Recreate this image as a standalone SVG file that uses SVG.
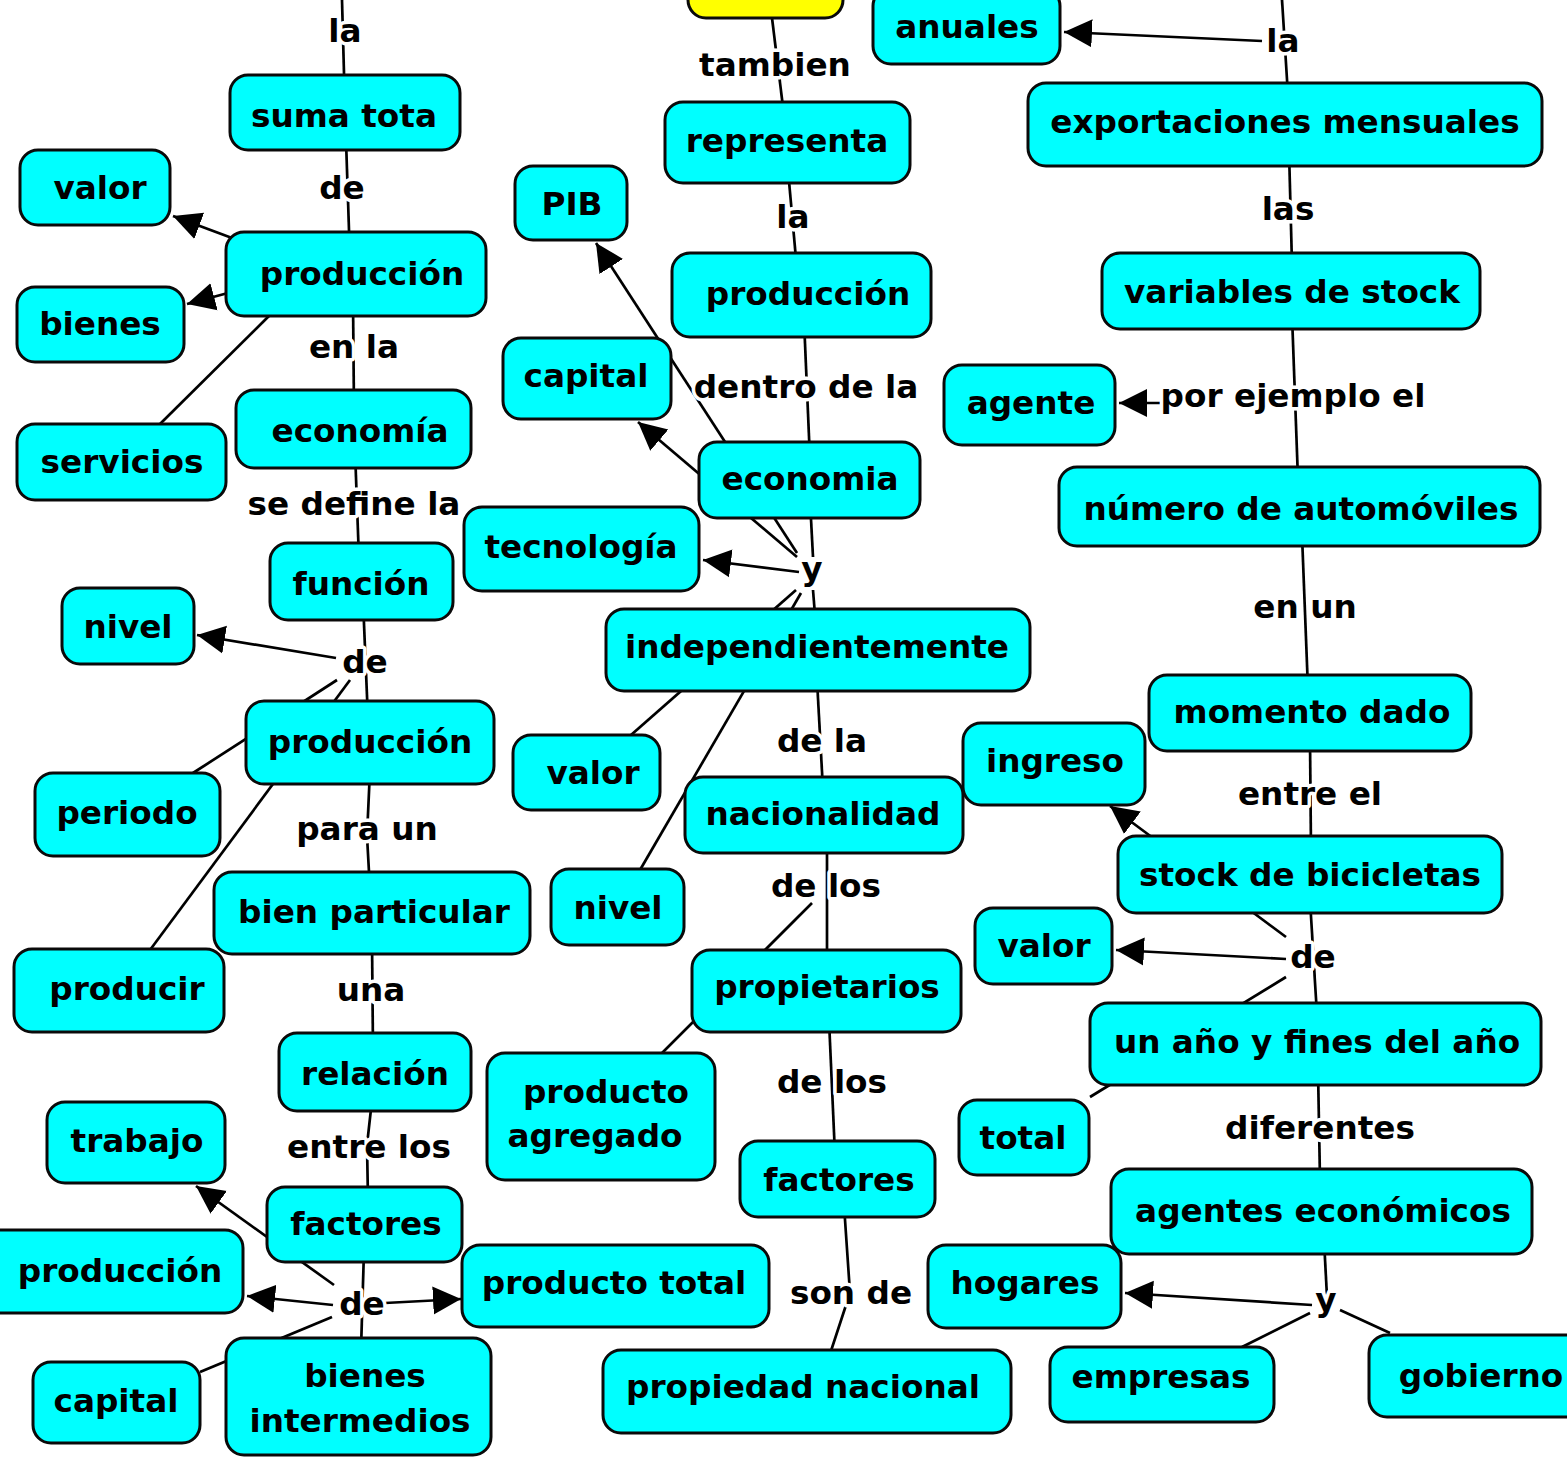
<svg xmlns="http://www.w3.org/2000/svg" width="1567" height="1458" viewBox="0 0 1567 1458">
<style>
.n rect{fill:#00ffff;stroke:#0a0a0a;stroke-width:3}
.y rect{fill:#ffff00;stroke:#0a0a0a;stroke-width:3}
text{font-family:"DejaVu Sans","Verdana",sans-serif;font-weight:bold;font-size:32.7px;fill:#000;text-anchor:middle}
.lp text{stroke:#fff;stroke-width:7;stroke-linejoin:round;paint-order:stroke}
#connectors line,#connectors polyline{stroke:#000;stroke-width:2.7;fill:none}
</style>
<defs>
<marker id="arr" markerUnits="userSpaceOnUse" markerWidth="30" markerHeight="30" viewBox="0 0 30 30" refX="28" refY="15" orient="auto"><path d="M0,1 L28,15 L0,29 z" fill="#000"/></marker>
</defs>
<rect x="0" y="0" width="1567" height="1458" fill="#fff"/>
<g id="connectors">
<line x1="342" y1="0" x2="345" y2="110"/>
<line x1="346" y1="140" x2="350" y2="260"/>
<line x1="232" y1="238" x2="173" y2="216" marker-end="url(#arr)"/>
<line x1="228" y1="293" x2="187" y2="304" marker-end="url(#arr)"/>
<line x1="272" y1="313" x2="160" y2="424"/>
<line x1="353" y1="300" x2="354" y2="410"/>
<line x1="355" y1="450" x2="359" y2="560"/>
<line x1="363" y1="600" x2="368" y2="720"/>
<line x1="336" y1="658" x2="197" y2="635" marker-end="url(#arr)"/>
<line x1="337" y1="680" x2="193" y2="773"/>
<line x1="350" y1="680" x2="150" y2="950"/>
<polyline points="370,770 367,836 370,890"/>
<line x1="372" y1="940" x2="373" y2="1050"/>
<polyline points="372,1100 367,1145 368,1200"/>
<line x1="364" y1="1250" x2="361" y2="1350"/>
<line x1="334" y1="1285" x2="196" y2="1186" marker-end="url(#arr)"/>
<line x1="333" y1="1305" x2="247" y2="1296" marker-end="url(#arr)"/>
<line x1="385" y1="1303" x2="461" y2="1299" marker-end="url(#arr)"/>
<line x1="332" y1="1317" x2="200" y2="1372"/>
<line x1="771" y1="10" x2="784" y2="115"/>
<line x1="788" y1="170" x2="797" y2="270"/>
<line x1="804" y1="320" x2="810" y2="460"/>
<line x1="810" y1="500" x2="813" y2="557"/>
<line x1="797" y1="553" x2="596" y2="243" marker-end="url(#arr)"/>
<line x1="797" y1="557" x2="638" y2="422" marker-end="url(#arr)"/>
<line x1="799" y1="572" x2="703" y2="560" marker-end="url(#arr)"/>
<line x1="813" y1="590" x2="817" y2="640"/>
<line x1="796" y1="590" x2="631" y2="735"/>
<line x1="801" y1="593" x2="640" y2="870"/>
<line x1="817" y1="680" x2="823" y2="790"/>
<line x1="827" y1="840" x2="827" y2="960"/>
<line x1="812" y1="903" x2="662" y2="1053"/>
<line x1="829" y1="1020" x2="835" y2="1155"/>
<polyline points="844,1205 850,1293 828,1360"/>
<line x1="1282" y1="0" x2="1288" y2="95"/>
<line x1="1262" y1="41" x2="1064" y2="32" marker-end="url(#arr)"/>
<line x1="1289" y1="150" x2="1292" y2="265"/>
<line x1="1292" y1="315" x2="1298" y2="480"/>
<line x1="1160" y1="403" x2="1119" y2="403" marker-end="url(#arr)"/>
<line x1="1302" y1="535" x2="1308" y2="690"/>
<line x1="1310" y1="740" x2="1311" y2="850"/>
<line x1="1310" y1="900" x2="1317" y2="1015"/>
<line x1="1286" y1="937" x2="1110" y2="806" marker-end="url(#arr)"/>
<line x1="1286" y1="959" x2="1116" y2="950" marker-end="url(#arr)"/>
<line x1="1286" y1="977" x2="1090" y2="1097"/>
<line x1="1318" y1="1070" x2="1320" y2="1180"/>
<line x1="1324" y1="1240" x2="1327" y2="1297"/>
<line x1="1312" y1="1305" x2="1125" y2="1293" marker-end="url(#arr)"/>
<line x1="1310" y1="1313" x2="1242" y2="1347"/>
<line x1="1340" y1="1310" x2="1390" y2="1333"/>
</g>
<g class="lp">
<text id="lp1" x="345" y="42">la</text>
<text id="lp2" x="342" y="199">de</text>
<text id="lp3" x="354" y="358">en la</text>
<text id="lp4" x="354" y="515">se define la</text>
<text id="lp5" x="365" y="673">de</text>
<text id="lp6" x="367" y="840">para un</text>
<text id="lp7" x="371" y="1001">una</text>
<text id="lp8" x="369" y="1158">entre los</text>
<text id="lp9" x="362" y="1315">de</text>
<text id="lp10" x="775" y="76">tambien</text>
<text id="lp11" x="793" y="228">la</text>
<text id="lp12" x="806" y="398">dentro de la</text>
<text id="lp13" x="812" y="580">y</text>
<text id="lp14" x="822" y="752">de la</text>
<text id="lp15" x="826" y="897">de los</text>
<text id="lp16" x="832" y="1093">de los</text>
<text id="lp17" x="851" y="1304">son de</text>
<text id="lp18" x="1283" y="52">la</text>
<text id="lp19" x="1288" y="220">las</text>
<text id="lp20" x="1293" y="407">por ejemplo el</text>
<text id="lp21" x="1305" y="618">en un</text>
<text id="lp22" x="1310" y="805">entre el</text>
<text id="lp23" x="1313" y="968">de</text>
<text id="lp24" x="1320" y="1139">diferentes</text>
<text id="lp25" x="1326" y="1311">y</text>
</g>
<g id="n_yellow" class="y"><rect x="688" y="-30" width="155" height="48" rx="18"/></g>
<g id="n_anuales" class="n"><rect x="873" y="-12" width="187" height="76" rx="18"/><text x="967" y="38">anuales</text></g>
<g id="n_suma" class="n"><rect x="230" y="75" width="230" height="75" rx="18"/><text x="344" y="127">suma tota</text></g>
<g id="n_valor1" class="n"><rect x="20" y="150" width="150" height="75" rx="18"/><text x="100" y="199">valor</text></g>
<g id="n_prod1" class="n"><rect x="226" y="232" width="260" height="84" rx="18"/><text x="362" y="285">producción</text></g>
<g id="n_bienes" class="n"><rect x="17" y="287" width="167" height="75" rx="18"/><text x="100" y="335">bienes</text></g>
<g id="n_servicios" class="n"><rect x="17" y="424" width="209" height="76" rx="18"/><text x="122" y="473">servicios</text></g>
<g id="n_economia1" class="n"><rect x="236" y="390" width="235" height="78" rx="18"/><text x="360" y="442">economía</text></g>
<g id="n_funcion" class="n"><rect x="270" y="543" width="183" height="77" rx="18"/><text x="361" y="595">función</text></g>
<g id="n_nivel1" class="n"><rect x="62" y="588" width="132" height="76" rx="18"/><text x="128" y="638">nivel</text></g>
<g id="n_prod2" class="n"><rect x="246" y="701" width="248" height="83" rx="18"/><text x="370" y="753">producción</text></g>
<g id="n_periodo" class="n"><rect x="35" y="773" width="185" height="83" rx="18"/><text x="127" y="824">periodo</text></g>
<g id="n_producir" class="n"><rect x="14" y="949" width="210" height="83" rx="18"/><text x="127" y="1000">producir</text></g>
<g id="n_bienpart" class="n"><rect x="214" y="872" width="316" height="82" rx="18"/><text x="374" y="923">bien particular</text></g>
<g id="n_relacion" class="n"><rect x="279" y="1033" width="192" height="78" rx="18"/><text x="375" y="1085">relación</text></g>
<g id="n_trabajo" class="n"><rect x="47" y="1102" width="178" height="81" rx="18"/><text x="137" y="1152">trabajo</text></g>
<g id="n_factores1" class="n"><rect x="267" y="1187" width="195" height="75" rx="18"/><text x="366" y="1235">factores</text></g>
<g id="n_prod3" class="n"><rect x="-20" y="1230" width="263" height="83" rx="18"/><text x="120" y="1282">producción</text></g>
<g id="n_prodtotal" class="n"><rect x="462" y="1245" width="307" height="82" rx="18"/><text x="614" y="1294">producto total</text></g>
<g id="n_capital1" class="n"><rect x="33" y="1362" width="167" height="81" rx="18"/><text x="116" y="1412">capital</text></g>
<g id="n_bienesint" class="n"><rect x="226" y="1338" width="265" height="117" rx="18"/><text x="365" y="1387">bienes</text><text x="360" y="1432">intermedios</text></g>
<g id="n_pib" class="n"><rect x="515" y="166" width="112" height="74" rx="18"/><text x="572" y="215">PIB</text></g>
<g id="n_representa" class="n"><rect x="665" y="102" width="245" height="81" rx="18"/><text x="787" y="152">representa</text></g>
<g id="n_prod4" class="n"><rect x="672" y="253" width="259" height="84" rx="18"/><text x="808" y="305">producción</text></g>
<g id="n_capital2" class="n"><rect x="503" y="338" width="168" height="81" rx="18"/><text x="586" y="387">capital</text></g>
<g id="n_economia2" class="n"><rect x="699" y="442" width="221" height="76" rx="18"/><text x="810" y="490">economia</text></g>
<g id="n_tecnologia" class="n"><rect x="464" y="507" width="235" height="84" rx="18"/><text x="581" y="558">tecnología</text></g>
<g id="n_indep" class="n"><rect x="606" y="609" width="424" height="82" rx="18"/><text x="817" y="658">independientemente</text></g>
<g id="n_valor2" class="n"><rect x="513" y="735" width="147" height="75" rx="18"/><text x="593" y="784">valor</text></g>
<g id="n_nivel2" class="n"><rect x="551" y="869" width="133" height="76" rx="18"/><text x="618" y="919">nivel</text></g>
<g id="n_nacionalidad" class="n"><rect x="685" y="777" width="278" height="76" rx="18"/><text x="823" y="825">nacionalidad</text></g>
<g id="n_propietarios" class="n"><rect x="692" y="950" width="269" height="82" rx="18"/><text x="827" y="998">propietarios</text></g>
<g id="n_prodagregado" class="n"><rect x="487" y="1053" width="228" height="127" rx="18"/><text x="606" y="1103">producto</text><text x="595" y="1147">agregado</text></g>
<g id="n_factores2" class="n"><rect x="740" y="1141" width="195" height="76" rx="18"/><text x="839" y="1191">factores</text></g>
<g id="n_propiedad" class="n"><rect x="603" y="1350" width="408" height="83" rx="18"/><text x="803" y="1398">propiedad nacional</text></g>
<g id="n_export" class="n"><rect x="1028" y="83" width="514" height="83" rx="18"/><text x="1285" y="133">exportaciones mensuales</text></g>
<g id="n_variables" class="n"><rect x="1102" y="253" width="378" height="76" rx="18"/><text x="1292" y="303">variables de stock</text></g>
<g id="n_agente" class="n"><rect x="944" y="365" width="171" height="80" rx="18"/><text x="1031" y="414">agente</text></g>
<g id="n_numero" class="n"><rect x="1059" y="467" width="481" height="79" rx="18"/><text x="1301" y="520">número de automóviles</text></g>
<g id="n_momento" class="n"><rect x="1149" y="675" width="322" height="76" rx="18"/><text x="1312" y="723">momento dado</text></g>
<g id="n_ingreso" class="n"><rect x="963" y="723" width="182" height="82" rx="18"/><text x="1055" y="772">ingreso</text></g>
<g id="n_stock" class="n"><rect x="1118" y="836" width="384" height="77" rx="18"/><text x="1310" y="886">stock de bicicletas</text></g>
<g id="n_valor3" class="n"><rect x="975" y="908" width="137" height="76" rx="18"/><text x="1044" y="957">valor</text></g>
<g id="n_unano" class="n"><rect x="1090" y="1003" width="451" height="82" rx="18"/><text x="1317" y="1053">un año y fines del año</text></g>
<g id="n_total" class="n"><rect x="959" y="1100" width="130" height="75" rx="18"/><text x="1023" y="1149">total</text></g>
<g id="n_agentes" class="n"><rect x="1111" y="1169" width="421" height="85" rx="18"/><text x="1323" y="1222">agentes económicos</text></g>
<g id="n_hogares" class="n"><rect x="928" y="1245" width="193" height="83" rx="18"/><text x="1025" y="1294">hogares</text></g>
<g id="n_empresas" class="n"><rect x="1050" y="1347" width="224" height="75" rx="18"/><text x="1161" y="1388">empresas</text></g>
<g id="n_gobierno" class="n"><rect x="1369" y="1335" width="230" height="82" rx="18"/><text x="1481" y="1387">gobierno</text></g>
</svg>
